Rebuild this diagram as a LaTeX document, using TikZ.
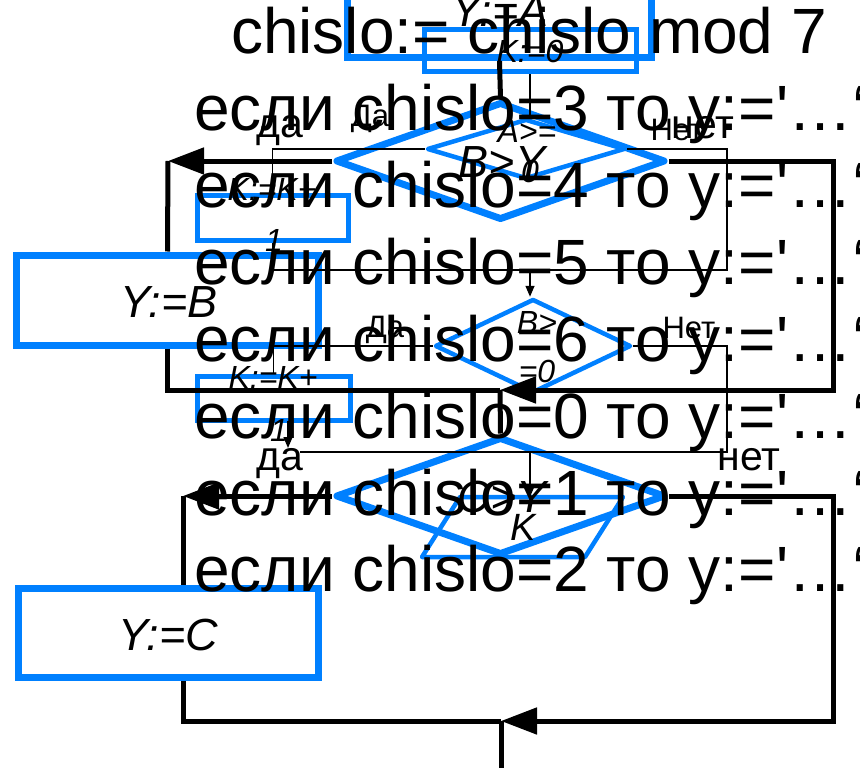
\documentclass[tikz,border=0pt]{standalone}
\usepackage{fontspec}
\setmainfont{Liberation Sans}[Ligatures=TeXOff]
\usetikzlibrary{arrows.meta,shapes.geometric}
\definecolor{fblue}{RGB}{0,128,255}
\begin{document}
\begin{tikzpicture}[x=1pt,y=-1pt,
  bigbox/.style={rectangle,draw=fblue,line width=7pt,inner sep=0pt,minimum height=90pt},
  smbox/.style={rectangle,draw=fblue,line width=5pt,inner sep=0pt},
  bigdia/.style={diamond,draw=fblue,line width=7pt,inner sep=0pt,line join=round},
  smdia/.style={diamond,draw=fblue,line width=4.5pt,inner sep=0pt,line join=round},
  thk/.style={line width=5pt,black},
  thn/.style={line width=1.5pt,black},
  bigarr/.style={-{Triangle[length=36pt,width=26pt]}},
  smarr/.style={-{Triangle[length=11pt,width=9pt]}},
  bigtxt/.style={font=\fontsize{64}{76}\selectfont,anchor=base west,inner sep=0pt},
  ftxt/.style={font=\fontsize{45}{54}\selectfont\itshape,anchor=base,inner sep=0pt},
  stxt/.style={font=\fontsize{32}{38}\selectfont\itshape,anchor=base,inner sep=0pt},
  blab/.style={font=\fontsize{41}{49}\selectfont,anchor=base,inner sep=0pt},
  slab/.style={font=\fontsize{31}{37}\selectfont,anchor=base,inner sep=0pt}]
\useasboundingbox (0,0) rectangle (860,768);
\fill[white] (0,0) rectangle (860,768);

% ---- blue shapes
\node[bigbox,minimum width=304pt] (ya) at (499.5,12.5) {};
\node[bigbox,minimum width=302pt] (yb) at (167.5,300) {};
\node[bigbox,minimum width=300pt,minimum height=89pt] (yc) at (168,633) {};
\node[bigdia,minimum width=330pt,minimum height=118pt] (d1) at (500.5,161) {};
\node[bigdia,minimum width=330pt,minimum height=118pt] (d2) at (500.5,496) {};
\node[smbox,minimum width=212pt,minimum height=42pt] (k0) at (530,51) {};
\node[smbox,minimum width=151pt,minimum height=45pt] (b1) at (272.5,217.5) {};
\node[smbox,minimum width=153pt,minimum height=44pt] (b2) at (273.5,398) {};
\node[smdia,minimum width=198pt,minimum height=60pt] (s1) at (526,149) {};
\node[smdia,minimum width=196pt,minimum height=94pt] (s2) at (533,346) {};
\coordinate (p1) at (460,497);
\coordinate (p2) at (623,497);
\coordinate (p3) at (585,557);
\coordinate (p4) at (422,557);
\draw[fblue,line width=4.5pt,line join=round] (p1) -- (p2) -- (p3) -- (p4) -- cycle;
\coordinate (pout) at (530,497);

% ---- thick connectors (big flowchart)
\coordinate (c1l) at (168,161);
\coordinate (c1r) at (833,161);
\coordinate (m1) at (500,390);
\coordinate (c2l) at (183,496);
\coordinate (c2r) at (833,496);
\coordinate (m2) at (501,721);
\coordinate (bot) at (501,780);
\draw[thk] (ya.south) -- (d1.north);
\draw[thk,bigarr] (d1.west) -- (c1l);
\draw[thk] (c1l) -- (yb.north);
\draw[thk] (yb.south) -- (yb.south |- m1) -- (m1);
\draw[thk,bigarr] (d1.east) -- (c1r) -- (c1r |- m1) -- (m1);
\draw[thk] (m1) -- (d2.north);
\draw[thk,bigarr] (d2.west) -- (c2l);
\draw[thk] (c2l) -- (c2l |- yc.north);
\draw[thk] (c2l |- yc.south) -- (c2l |- m2) -- (m2);
\draw[thk,bigarr] (d2.east) -- (c2r) -- (c2r |- m2) -- (m2);
\draw[thk] (m2) -- (bot);

% ---- thin connectors (small flowchart)
\coordinate (r1) at (727,149);
\coordinate (j1) at (530,270);
\coordinate (r2) at (727,346);
\coordinate (j2) at (530,452);
\coordinate (q) at (300,452);
\coordinate (b2o) at (288,421);
\coordinate (b2e) at (288,448);
\draw[thn] (k0.south) -- (k0.south |- s1.north);
\draw[thn] (s1.west) -- (s1.west -| b1.north) -- (b1.north);
\draw[thn] (s1.east) -- (r1) -- (r1 |- j1) -- (j1);
\draw[thn] (b1.south) -- (b1.south |- j1) -- (j1);
\draw[thn,smarr] (j1) -- (j1 |- s2.north);
\draw[thn] (s2.west) -- (s2.west -| b2.north) -- (b2.north);
\draw[thn] (s2.east) -- (r2) -- (r2 |- j2) -- (q);
\draw[thn,smarr] (b2o) -- (b2e);
\draw[thn,smarr] (j2) -- (pout);

% ---- flowchart texts
\node[ftxt] (tya) at (500,27) {Y:=A};
\node[ftxt] (tyb) at (169,317) {Y:=B};
\node[ftxt] (tyc) at (168,650) {Y:=C};
\node[ftxt] (td1) at (502,177) {B>Y};
\node[ftxt] (td2) at (502,512) {C>Y};
\node[stxt] (tk0) at (530,63) {K:=0};
\node[stxt] (tb1a) at (272,200) {K:=K+};
\node[stxt] (tb1b) at (274,251) {1};
\node[stxt] (tb2a) at (273,388) {K:=K+};
\node[stxt] (tb2b) at (279,441) {1};
\node[stxt] (ts1a) at (527,142) {A>=};
\node[stxt] (ts1b) at (530,182) {0};
\node[stxt] (ts2a) at (537,333) {B>};
\node[stxt] (ts2b) at (537,382) {=0};
\node[font=\fontsize{38}{44}\selectfont\itshape,anchor=base,inner sep=0pt] (tout) at (523,540) {K};
\node[blab] (y1) at (280,137) {да};
\node[blab] (n1) at (703,138) {нет};
\node[blab] (y2) at (280,470) {да};
\node[blab] (n2) at (749,470) {нет};
\node[slab] (sy1) at (370,126) {Да};
\node[slab] (sn1) at (677,140) {Нет};
\node[slab] (sy2) at (385,337) {Да};
\node[slab] (sn2) at (689,338) {Нет};

% ---- big text
\node[bigtxt] (l0) at (231,54) {chislo:= chislo mod 7};
\node[bigtxt] (l1) at (194,131) {если chislo=3 то y:='…‘};
\node[bigtxt] (l2) at (194,207.8) {если chislo=4 то y:='…‘};
\node[bigtxt] (l3) at (194,284.6) {если chislo=5 то y:='…‘};
\node[bigtxt] (l4) at (194,361.4) {если chislo=6 то y:='…‘};
\node[bigtxt] (l5) at (194,438.2) {если chislo=0 то y:='…‘};
\node[bigtxt] (l6) at (194,515) {если chislo=1 то y:='…‘};
\node[bigtxt] (l7) at (194,591.8) {если chislo=2 то y:='…‘};
\end{tikzpicture}
\end{document}
